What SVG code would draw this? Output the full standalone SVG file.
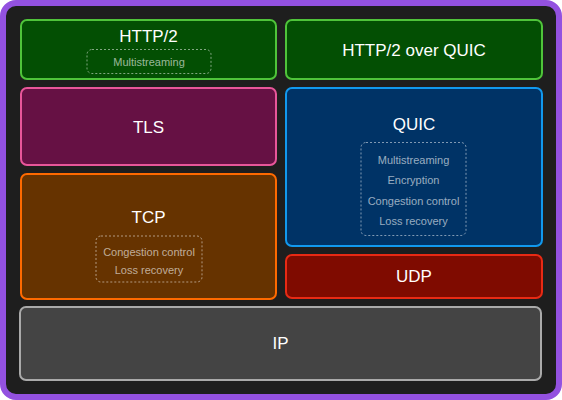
<svg xmlns="http://www.w3.org/2000/svg" width="562" height="400" viewBox="0 0 562 400">
<style>
.box{stroke-width:2}
.t{font-family:"Liberation Sans",Arial,sans-serif;font-size:17px;fill:#ffffff;text-anchor:middle;dominant-baseline:central}
.s{font-family:"Liberation Sans",Arial,sans-serif;font-size:11px;fill:#ffffff;fill-opacity:0.6;text-anchor:middle;dominant-baseline:central}
.d{fill:none;stroke:#ffffff;stroke-opacity:0.5;stroke-width:1;stroke-dasharray:2 2}
</style>
<rect width="562" height="400" fill="#ffffff"/>
<rect x="3" y="3" width="556" height="394" rx="13" fill="#1e1e1e" stroke="#9351e0" stroke-width="6"/>
<g id="http2">
<rect class="box" x="21" y="20" width="255" height="59" rx="6" fill="#034f03" stroke="#4fc43a"/>
<text class="t" x="148.5" y="36.5">HTTP/2</text>
<rect class="d" x="87" y="49.5" width="124" height="24" rx="5"/>
<text class="s" x="149" y="61.5">Multistreaming</text>
</g>
<g id="http2quic">
<rect class="box" x="286" y="20" width="256" height="59" rx="6" fill="#034f03" stroke="#4fc43a"/>
<text class="t" x="414" y="50">HTTP/2 over QUIC</text>
</g>
<g id="tls">
<rect class="box" x="21" y="88" width="255" height="77" rx="6" fill="#661144" stroke="#e8569a"/>
<text class="t" x="148.5" y="127">TLS</text>
</g>
<g id="quic">
<rect class="box" x="286" y="88" width="256" height="158" rx="6" fill="#003366" stroke="#1199ee"/>
<text class="t" x="414" y="124.5">QUIC</text>
<rect class="d" x="361" y="142.5" width="105" height="93" rx="5"/>
<text class="s" x="413.5" y="159.5">Multistreaming</text>
<text class="s" x="413.5" y="180">Encryption</text>
<text class="s" x="413.5" y="200.5">Congestion control</text>
<text class="s" x="413.5" y="220.5">Loss recovery</text>
</g>
<g id="tcp">
<rect class="box" x="21" y="174" width="255" height="125" rx="6" fill="#663300" stroke="#ff6a00"/>
<text class="t" x="148.5" y="217.5">TCP</text>
<rect class="d" x="96" y="236" width="106" height="46" rx="5"/>
<text class="s" x="149" y="251.5">Congestion control</text>
<text class="s" x="149" y="270">Loss recovery</text>
</g>
<g id="udp">
<rect class="box" x="286" y="255" width="256" height="43" rx="6" fill="#7f0b00" stroke="#e82a14"/>
<text class="t" x="414" y="276.5">UDP</text>
</g>
<g id="ip">
<rect class="box" x="20" y="307" width="521" height="73" rx="6" fill="#444444" stroke="#aaaaaa"/>
<text class="t" x="280.5" y="343">IP</text>
</g>
<g id="connectors"></g>
</svg>
